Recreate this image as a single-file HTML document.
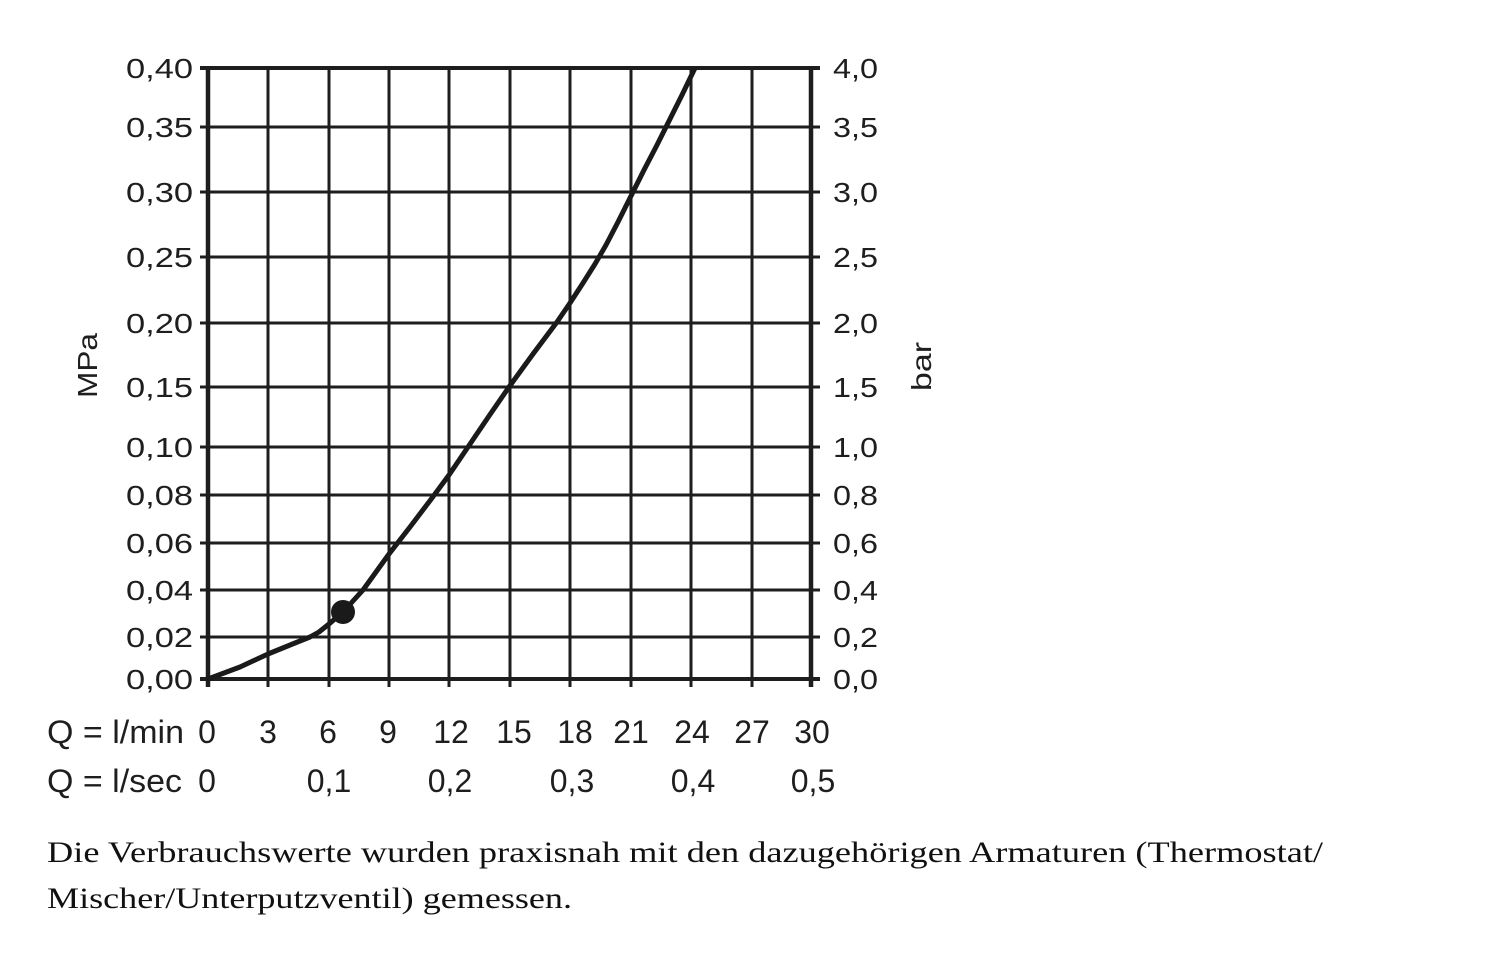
<!DOCTYPE html>
<html>
<head>
<meta charset="utf-8">
<style>
  html, body { margin: 0; padding: 0; background: #ffffff; }
  svg { display: block; }
  .t { font-family: "Liberation Sans", "DejaVu Sans", sans-serif; fill: #1e1e1e; }
  .s { font-family: "Liberation Serif", "DejaVu Serif", serif; fill: #111; }
</style>
</head>
<body>
<svg width="1500" height="956" viewBox="0 0 1500 956" xmlns="http://www.w3.org/2000/svg">
  <rect x="0" y="0" width="1500" height="956" fill="#ffffff"/>

  <!-- horizontal grid lines -->
  <g stroke="#1e1e1e" stroke-width="3">
    <line x1="200" y1="127" x2="820" y2="127"/>
    <line x1="200" y1="192" x2="820" y2="192"/>
    <line x1="200" y1="257" x2="820" y2="257"/>
    <line x1="200" y1="323" x2="820" y2="323"/>
    <line x1="200" y1="387" x2="820" y2="387"/>
    <line x1="200" y1="447" x2="820" y2="447"/>
    <line x1="200" y1="495" x2="820" y2="495"/>
    <line x1="200" y1="543" x2="820" y2="543"/>
    <line x1="200" y1="590" x2="820" y2="590"/>
    <line x1="200" y1="637" x2="820" y2="637"/>
  </g>
  <g stroke="#1e1e1e" stroke-width="4">
    <line x1="200" y1="68" x2="820" y2="68"/>
    <line x1="200" y1="679" x2="820" y2="679"/>
  </g>

  <!-- vertical grid lines -->
  <g stroke="#1e1e1e" stroke-width="3">
    <line x1="268" y1="68" x2="268" y2="687"/>
    <line x1="329" y1="68" x2="329" y2="687"/>
    <line x1="389" y1="68" x2="389" y2="687"/>
    <line x1="449" y1="68" x2="449" y2="687"/>
    <line x1="510" y1="68" x2="510" y2="687"/>
    <line x1="570" y1="68" x2="570" y2="687"/>
    <line x1="631" y1="68" x2="631" y2="687"/>
    <line x1="691" y1="68" x2="691" y2="687"/>
    <line x1="752" y1="68" x2="752" y2="687"/>
  </g>
  <g stroke="#1e1e1e" stroke-width="4.5">
    <line x1="208" y1="66" x2="208" y2="687"/>
    <line x1="811" y1="66" x2="811" y2="687"/>
  </g>

  <!-- curve -->
  <clipPath id="cp"><rect x="200" y="68" width="620" height="620"/></clipPath>
  <path clip-path="url(#cp)" fill="none" stroke="#1a1a1a" stroke-width="5" stroke-linejoin="round" stroke-linecap="round"
    d="M208,679 L240,667 L268,654 L295,643 L310,637 L319,632 L329,624 L343,612 L363,590 L376,572 L389,554 L410,527 L432,498 L449,475 L468,447 L489,416 L509,387 L533,354 L557,322 L570,303 L583,283 L595,264 L606,245 L618,222 L631,196 L644,170 L657,145 L669,121 L682,95 L695,68 L700,58"/>
  <circle cx="343" cy="612" r="12" fill="#1a1a1a"/>

  <!-- left labels -->
  <g class="t" font-size="28">
    <text x="126" y="78" textLength="67" lengthAdjust="spacingAndGlyphs">0,40</text>
    <text x="126" y="137" textLength="67" lengthAdjust="spacingAndGlyphs">0,35</text>
    <text x="126" y="202" textLength="67" lengthAdjust="spacingAndGlyphs">0,30</text>
    <text x="126" y="267" textLength="67" lengthAdjust="spacingAndGlyphs">0,25</text>
    <text x="126" y="333" textLength="67" lengthAdjust="spacingAndGlyphs">0,20</text>
    <text x="126" y="397" textLength="67" lengthAdjust="spacingAndGlyphs">0,15</text>
    <text x="126" y="457" textLength="67" lengthAdjust="spacingAndGlyphs">0,10</text>
    <text x="126" y="505" textLength="67" lengthAdjust="spacingAndGlyphs">0,08</text>
    <text x="126" y="553" textLength="67" lengthAdjust="spacingAndGlyphs">0,06</text>
    <text x="126" y="600" textLength="67" lengthAdjust="spacingAndGlyphs">0,04</text>
    <text x="126" y="647" textLength="67" lengthAdjust="spacingAndGlyphs">0,02</text>
    <text x="126" y="689" textLength="67" lengthAdjust="spacingAndGlyphs">0,00</text>
  </g>

  <!-- right labels -->
  <g class="t" font-size="28">
    <text x="833" y="78" textLength="45" lengthAdjust="spacingAndGlyphs">4,0</text>
    <text x="833" y="137" textLength="45" lengthAdjust="spacingAndGlyphs">3,5</text>
    <text x="833" y="202" textLength="45" lengthAdjust="spacingAndGlyphs">3,0</text>
    <text x="833" y="267" textLength="45" lengthAdjust="spacingAndGlyphs">2,5</text>
    <text x="833" y="333" textLength="45" lengthAdjust="spacingAndGlyphs">2,0</text>
    <text x="833" y="397" textLength="45" lengthAdjust="spacingAndGlyphs">1,5</text>
    <text x="833" y="457" textLength="45" lengthAdjust="spacingAndGlyphs">1,0</text>
    <text x="833" y="505" textLength="45" lengthAdjust="spacingAndGlyphs">0,8</text>
    <text x="833" y="553" textLength="45" lengthAdjust="spacingAndGlyphs">0,6</text>
    <text x="833" y="600" textLength="45" lengthAdjust="spacingAndGlyphs">0,4</text>
    <text x="833" y="647" textLength="45" lengthAdjust="spacingAndGlyphs">0,2</text>
    <text x="833" y="689" textLength="45" lengthAdjust="spacingAndGlyphs">0,0</text>
  </g>

  <!-- axis titles -->
  <text class="t" font-size="28" transform="translate(97,398) rotate(-90)" textLength="65" lengthAdjust="spacingAndGlyphs">MPa</text>
  <text class="t" font-size="28" transform="translate(931,391) rotate(-90)" textLength="49" lengthAdjust="spacingAndGlyphs">bar</text>

  <!-- Q rows -->
  <g class="t" font-size="32">
    <text x="47" y="743" textLength="137" lengthAdjust="spacingAndGlyphs">Q = l/min</text>
    <text x="47" y="792" textLength="135" lengthAdjust="spacingAndGlyphs">Q = l/sec</text>
  </g>
  <g class="t" font-size="32" text-anchor="middle">
    <text x="207" y="743">0</text>
    <text x="268" y="743">3</text>
    <text x="328" y="743">6</text>
    <text x="388" y="743">9</text>
    <text x="451" y="743">12</text>
    <text x="514" y="743">15</text>
    <text x="575" y="743">18</text>
    <text x="631" y="743">21</text>
    <text x="692" y="743">24</text>
    <text x="752" y="743">27</text>
    <text x="812" y="743">30</text>

    <text x="207" y="792">0</text>
    <text x="329" y="792">0,1</text>
    <text x="450" y="792">0,2</text>
    <text x="572" y="792">0,3</text>
    <text x="693" y="792">0,4</text>
    <text x="813" y="792">0,5</text>
  </g>

  <!-- footer -->
  <text class="s" font-size="30" x="47" y="862" textLength="1276" lengthAdjust="spacingAndGlyphs">Die Verbrauchswerte wurden praxisnah mit den dazugehörigen Armaturen (Thermostat/</text>
  <text class="s" font-size="30" x="47" y="908" textLength="525" lengthAdjust="spacingAndGlyphs">Mischer/Unterputzventil) gemessen.</text>
</svg>
</body>
</html>
